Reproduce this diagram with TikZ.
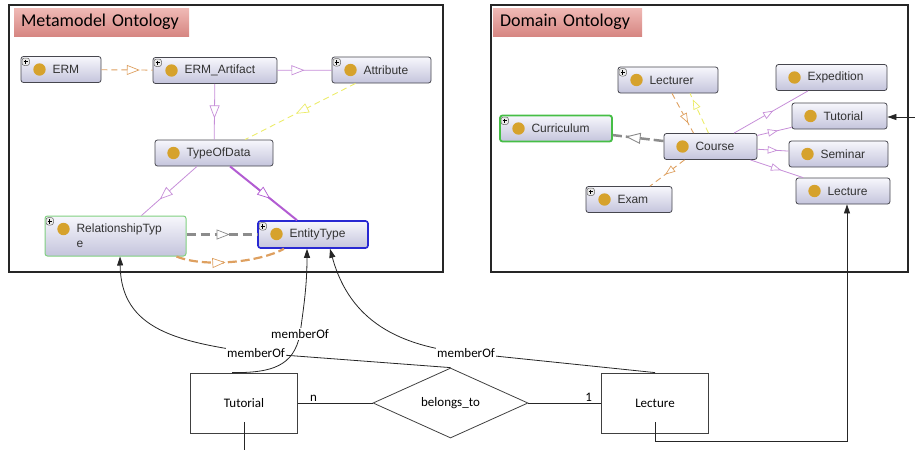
\documentclass[tikz,border=0pt]{standalone}
\usepackage{fontspec}
\usetikzlibrary{arrows.meta,decorations.markings,shapes.geometric,positioning}
\newfontfamily\ontofont{Liberation Sans}
\newfontfamily\calfont{Carlito}
\definecolor{dotgold}{RGB}{214,162,44}
\definecolor{nodetop}{RGB}{247,247,252}
\definecolor{nodebot}{RGB}{196,196,220}
\definecolor{nodeline}{RGB}{70,70,78}
\definecolor{linkpurple}{RGB}{198,142,216}
\definecolor{darkpurple}{RGB}{178,92,210}
\definecolor{linkorange}{RGB}{222,160,96}
\definecolor{linkgrey}{RGB}{140,140,140}
\definecolor{linkyellow}{RGB}{236,236,106}
\definecolor{headtop}{RGB}{240,186,182}
\definecolor{headbot}{RGB}{214,134,130}
\definecolor{relgreen}{RGB}{128,208,128}
\definecolor{curgreen}{RGB}{70,190,70}
\definecolor{entblue}{RGB}{40,40,210}

\newcommand{\ontodot}{%
  \fill[dotgold] ([shift={(18.5pt,-13pt)}]path picture bounding box.north west) circle (6.2pt);}
\newcommand{\ontoplus}{%
  \draw[black!60, fill=black!8, line width=0.5pt]
    ([shift={(1pt,-1.5pt)}]path picture bounding box.north west) rectangle +(7.5pt,-7.5pt);
  \draw[black, line width=0.7pt]
    ([shift={(2.5pt,-5.25pt)}]path picture bounding box.north west) -- +(4.5pt,0pt)
    ([shift={(4.75pt,-3pt)}]path picture bounding box.north west) -- +(0pt,-4.5pt);}

\begin{document}
\begin{tikzpicture}[x=1pt,y=-1pt,
    onto node/.style={draw=nodeline, line width=0.8pt, rounded corners=2.5pt,
      top color=nodetop, bottom color=nodebot, minimum height=26pt,
      inner xsep=4pt, inner ysep=2pt, text width=#1-8pt, align=left,
      font=\ontofont\fontsize{12}{15}\selectfont, text=black!80,
      execute at begin node={\leftskip=27.5pt}, path picture={\ontodot}},
    plus node/.style={onto node=#1, path picture={\ontodot\ontoplus}},
    head box/.style={top color=headtop, bottom color=headbot, minimum height=28pt,
      inner xsep=7pt, text width=#1-14pt, align=left,
      font=\calfont\fontsize{18}{20}\selectfont},
    frame box/.style={draw=black!85, line width=1.2pt, minimum height=267pt},
    link/.style={draw=linkpurple, line width=0.8pt},
    orange link/.style={draw=linkorange, line width=0.9pt, dash pattern=on 6pt off 4pt},
    yellow link/.style={draw=linkyellow, line width=0.9pt, dash pattern=on 6pt off 4pt},
    grey link/.style={draw=linkgrey, line width=2.2pt, dash pattern=on 9pt off 5pt},
    isa/.style={postaction={decorate}, decoration={markings,
      mark=at position #1 with {\arrow{Triangle[fill=white, length=13pt, width=10pt, line width=0.7pt]}}}},
    isa small/.style={postaction={decorate}, decoration={markings,
      mark=at position #1 with {\arrow{Triangle[fill=white, length=10pt, width=7.5pt, line width=0.7pt]}}}},
    isa big/.style={postaction={decorate}, decoration={markings,
      mark=at position #1 with {\arrow{Triangle[fill=white, length=15pt, width=11pt, line width=0.9pt]}}}},
    er box/.style={draw=black!75, line width=0.8pt, minimum width=107pt, minimum height=60pt,
      font=\calfont\fontsize{13}{15}\selectfont},
    er rel/.style={diamond, draw=black!75, line width=0.8pt, minimum width=155pt,
      minimum height=60pt, inner sep=0pt, font=\calfont\fontsize{13}{15}\selectfont},
    er line/.style={draw=black!85, line width=0.8pt},
    er text/.style={font=\calfont\fontsize{13}{15}\selectfont, inner sep=1pt},
    member/.style={er line, -{Triangle[length=9pt, width=6pt]}},
    member label/.style={er text, fill=white}]

  \useasboundingbox (0,0) rectangle (915,450);

  \node[frame box, minimum width=434pt] (metaframe) at (226,138.5) {};
  \node[frame box, minimum width=417pt] (domframe) at (699.5,138.5) {};
  \node[head box=175pt] (metatitle) at (101.5,22) {Metamodel Ontology};
  \node[head box=149pt] (domtitle) at (567.5,22) {Domain Ontology};

  \node[plus node=80pt] (erm) at (61,69.5) {ERM};
  \node[plus node=124pt] (art) at (215,70.5) {ERM\_Artifact};
  \node[plus node=99pt] (attr) at (381.5,70) {Attribute};
  \node[onto node=118pt] (tod) at (214,153) {TypeOfData};
  \node[plus node=141pt, draw=relgreen, line width=1pt, minimum height=40pt] (rel) at (115.5,236) {RelationshipTyp\\e};
  \node[plus node=110pt, draw=entblue, line width=1.6pt, minimum height=27pt] (ent) at (313,234.5) {EntityType};

  \path[link]
    (erm) edge[orange link, isa=0.75] (art)
    (art) edge[isa=0.5] (attr)
          edge[isa=0.62] (tod);
  \draw[yellow link, isa=0.54] ([xshift=-26pt]attr.south) -- ([xshift=31pt]tod.north);
  \draw[link, isa=0.67] ([xshift=-17pt]tod.south) -- ([xshift=26pt]rel.north);
  \draw[link, draw=darkpurple, line width=2pt, isa=0.6] ([xshift=16pt]tod.south) -- ([xshift=-16pt]ent.north);
  \draw[grey link, isa=0.61] (rel.east |- ent.west) -- (ent.west);
  \draw[orange link, line width=2.2pt, dash pattern=on 9pt off 4pt, isa=0.45]
    ([xshift=-10pt]rel.south east) .. controls (205,268) and (260,262) .. ([xshift=-29pt]ent.south);

  \node[plus node=100pt] (lect) at (668,80) {Lecturer};
  \node[onto node=111pt] (exped) at (831.5,77.5) {Expedition};
  \node[onto node=95pt] (dtut) at (839.5,116) {Tutorial};
  \node[plus node=112pt, draw=curgreen, line width=1.8pt] (curr) at (556,128.5) {Curriculum};
  \node[onto node=93pt] (course) at (710.5,146.5) {Course};
  \node[onto node=99pt] (sem) at (838.5,154) {Seminar};
  \node[onto node=94pt] (dlec) at (843,191) {Lecture};
  \node[plus node=86pt] (exam) at (629,199.5) {Exam};

  \draw[grey link, line width=2.5pt, dash pattern=on 10pt off 4pt, isa big=0.75] (course) -- (curr);
  \draw[orange link, isa small=0.75] ([xshift=4pt]lect.south) -- ([xshift=-17pt]course.north);
  \draw[yellow link, isa small=0.85] ([xshift=-2pt]course.north) -- ([xshift=22pt]lect.south);
  \draw[orange link, isa small=0.56] ([xshift=-26pt]course.south) -- ([xshift=21pt]exam.north);
  \path[link]
    (course) edge[isa small=0.53] (exped)
             edge[isa small=0.6] (dtut)
             edge[isa small=0.65] (sem)
             edge[isa small=0.58] (dlec);

  \node[er box] (tut) at (244,403) {Tutorial};
  \node[er rel] (belongs) at (450.5,403) {belongs\_to};
  \node[er box] (lec) at (655,403) {Lecture};

  \draw[er line] (tut) -- node[er text, pos=0.21, above] (cardn) {n} (belongs);
  \draw[er line] (belongs) -- node[er text, pos=0.83, above] (cardone) {1} (lec);

  \draw[member] (belongs.north) -- (256,353) node[member label] (mof1) {memberOf}
    .. controls (178,342) and (121,330) .. ([xshift=4.5pt]rel.south);
  \draw[member] ([xshift=-12pt]tut.north) .. controls (272,373) and (294,366) .. (300,334)
    node[member label] (mof2) {memberOf} .. controls (304,305) and (307,285) .. ([xshift=-6pt]ent.south);
  \draw[member] (lec.north) -- (466,353) node[member label] (mof3) {memberOf}
    .. controls (400,346) and (350,322) .. ([xshift=17pt]ent.south);

  \coordinate (lecturn) at (847,441);
  \draw[member] ([yshift=-19pt]lec.center) |- (lecturn) -- (lecturn |- dlec.south);
  \coordinate (tutdown) at (244,450);
  \draw[er line] ([yshift=-19pt]tut.center) -- (tutdown);
  \coordinate (tutfeed) at (915,117);
  \draw[member] (tutfeed) -- (tutfeed -| dtut.east);
\end{tikzpicture}
\end{document}
